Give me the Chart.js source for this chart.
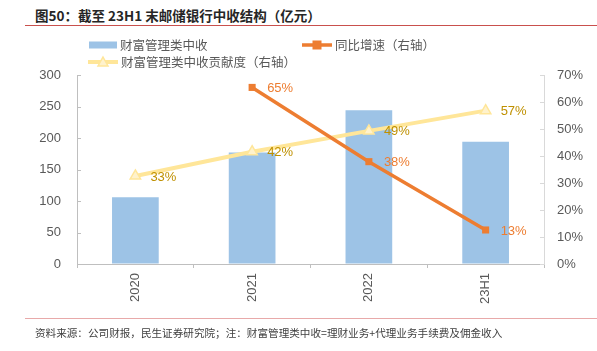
<!DOCTYPE html>
<html><head><meta charset="utf-8">
<script src="https://cdn.jsdelivr.net/npm/chart.js@4/dist/chart.umd.min.js"></script>
<style>
html,body{margin:0;padding:0;background:#fff;width:597px;height:351px;overflow:hidden;}
#wrap{position:relative;width:597px;height:351px;}
canvas{position:absolute;left:0;top:0;}
#title{position:absolute;left:35px;top:5px;font:bold 13.5px "Noto Sans CJK SC",sans-serif;color:#262626;white-space:nowrap;}
#tline{position:absolute;left:25px;right:0;top:25px;height:0;border-top:1.5px solid #C9504D;}
#fline{position:absolute;left:25px;right:0;top:318px;height:0;border-top:1.5px solid #E8A9A9;}
#foot{position:absolute;left:35px;top:325px;font:10.6px "Noto Sans CJK SC",sans-serif;color:#404040;white-space:nowrap;}
</style></head>
<body><div id="wrap">
<div id="title">图50：截至 23H1 末邮储银行中收结构（亿元）</div>
<div id="tline"></div>
<canvas id="c" width="597" height="351"></canvas>
<div id="fline"></div>
<div id="foot">资料来源：公司财报，民生证券研究院；注：财富管理类中收=理财业务+代理业务手续费及佣金收入</div>
</div>
<script>
const categories = ['2020', '2021', '2022', '23H1'];
const wealthIncome = [106, 177, 244, 194];        // 财富管理类中收（亿元）
const yoyGrowth = [null, 65.4, 37.9, 12.6];       // 同比增速（%）
const contribution = [32.6, 41.6, 49.3, 56.8];    // 财富管理类中收贡献度（%）
const leftTicks = [0, 50, 100, 150, 200, 250, 300];
const rightTicks = [0, 10, 20, 30, 40, 50, 60, 70];

const FONT = '"Liberation Sans", "Noto Sans CJK SC", sans-serif';
const CJK = '"Noto Sans CJK SC", sans-serif';

const innerTicks = {
  id: 'innerTicks',
  afterDraw(chart) {
    const ctx = chart.ctx;
    const y = chart.scales.y, y1 = chart.scales.y1;
    ctx.save();
    ctx.lineWidth = 1;
    ctx.strokeStyle = '#BFBFBF';
    leftTicks.forEach(v => {
      const p = Math.round(y.getPixelForValue(v)) + 0.5;
      ctx.beginPath(); ctx.moveTo(y.right, p); ctx.lineTo(y.right + 4, p); ctx.stroke();
    });
    ctx.strokeStyle = '#D9D9D9';
    rightTicks.forEach(v => {
      const p = Math.round(y1.getPixelForValue(v)) + 0.5;
      ctx.beginPath(); ctx.moveTo(y1.left - 4, p); ctx.lineTo(y1.left, p); ctx.stroke();
    });
    ctx.restore();
  }
};

const dataLabels = {
  id: 'dataLabels',
  afterDatasetsDraw(chart) {
    const ctx = chart.ctx;
    ctx.save();
    ctx.font = '13px ' + FONT;
    ctx.textBaseline = 'middle';
    ctx.textAlign = 'left';
    chart.data.datasets.forEach((ds, i) => {
      if (!ds.labelColor) return;
      const meta = chart.getDatasetMeta(i);
      meta.data.forEach((el, j) => {
        const v = ds.data[j];
        if (v === null || v === undefined) return;
        ctx.fillStyle = ds.labelColor;
        ctx.fillText(Math.round(v) + '%', el.x + 15, el.y + 1);
      });
    });
    ctx.restore();
  }
};

const legendPlugin = {
  id: 'customLegend',
  afterDraw(chart) {
    const ctx = chart.ctx;
    const ds = chart.data.datasets;
    const items = [
      {d: ds[2], x: 89, y: 45},
      {d: ds[0], x: 302, y: 45},
      {d: ds[1], x: 88, y: 62}
    ];
    ctx.save();
    items.forEach(it => {
      const d = it.d;
      if (d.type === 'bar') {
        ctx.fillStyle = d.backgroundColor;
        ctx.fillRect(it.x, it.y - 3.5, 28, 7);
      } else {
        ctx.strokeStyle = d.borderColor;
        ctx.lineWidth = d.borderWidth;
        ctx.beginPath(); ctx.moveTo(it.x, it.y); ctx.lineTo(it.x + 30, it.y); ctx.stroke();
        const cx = it.x + 15;
        if (d.pointStyle === 'rect') {
          ctx.fillStyle = d.pointBackgroundColor;
          ctx.fillRect(cx - 4.5, it.y - 4.5, 9, 9);
        } else {
          ctx.fillStyle = d.pointBackgroundColor;
          ctx.strokeStyle = d.pointBorderColor;
          ctx.lineWidth = 1.5;
          ctx.beginPath();
          ctx.moveTo(cx, it.y - 5); ctx.lineTo(cx + 5, it.y + 4); ctx.lineTo(cx - 5, it.y + 4); ctx.closePath();
          ctx.fill(); ctx.stroke();
        }
      }
      ctx.fillStyle = '#595959';
      ctx.font = '12.5px ' + CJK;
      ctx.textBaseline = 'middle';
      ctx.fillText(d.label, it.x + (d.type === 'bar' ? 31 : 33), it.y);
    });
    ctx.restore();
  }
};

new Chart(document.getElementById('c'), {
  data: {
    labels: categories,
    datasets: [
      {
        type: 'line', label: '同比增速（右轴）', data: yoyGrowth, yAxisID: 'y1', order: 1,
        borderColor: '#ED7D31', borderWidth: 3.5, pointStyle: 'rect', pointRadius: 5,
        pointBackgroundColor: '#ED7D31', pointBorderColor: '#ED7D31', pointBorderWidth: 0,
        labelColor: '#ED7D31', spanGaps: false, tension: 0
      },
      {
        type: 'line', label: '财富管理类中收贡献度（右轴）', data: contribution, yAxisID: 'y1', order: 2,
        borderColor: '#FFE699', borderWidth: 4, pointStyle: 'triangle', pointRadius: 6,
        pointBackgroundColor: '#FFF2CC', pointBorderColor: '#FFE699', pointBorderWidth: 1.5,
        labelColor: '#BF9000', tension: 0
      },
      {
        type: 'bar', label: '财富管理类中收', data: wealthIncome, yAxisID: 'y', order: 3,
        backgroundColor: '#9DC3E6', barPercentage: 0.4, categoryPercentage: 1
      }
    ]
  },
  options: {
    responsive: false, animation: false,
    layout: {padding: {top: 75, left: 0, right: 0, bottom: 0}},
    plugins: {legend: {display: false}, tooltip: {enabled: false}},
    scales: {
      x: {
        offset: true,
        grid: {display: true, drawOnChartArea: false, drawTicks: true, tickLength: 4, color: '#BFBFBF', offset: true},
        border: {display: true, color: '#BFBFBF', width: 1},
        ticks: {color: '#595959', font: {family: FONT, size: 13}, minRotation: 90, maxRotation: 90, padding: 5},
        afterFit(s) { s.height = 87; }
      },
      y: {
        position: 'left', min: 0, max: 300,
        afterBuildTicks(s) { s.ticks = leftTicks.map(v => ({value: v})); },
        grid: {display: true, drawOnChartArea: false, drawTicks: false},
        border: {display: true, color: '#BFBFBF', width: 1},
        ticks: {color: '#595959', font: {family: FONT, size: 13}, padding: 16},
        afterFit(s) { s.width = 77; }
      },
      y1: {
        position: 'right', min: 0, max: 70,
        afterBuildTicks(s) { s.ticks = rightTicks.map(v => ({value: v})); },
        grid: {display: true, drawOnChartArea: false, drawTicks: false},
        border: {display: true, color: '#D9D9D9', width: 1},
        ticks: {color: '#595959', font: {family: FONT, size: 13}, padding: 13, callback: v => v + '%'},
        afterFit(s) { s.width = 53; }
      }
    }
  },
  plugins: [innerTicks, dataLabels, legendPlugin]
});
</script>
</body></html>
